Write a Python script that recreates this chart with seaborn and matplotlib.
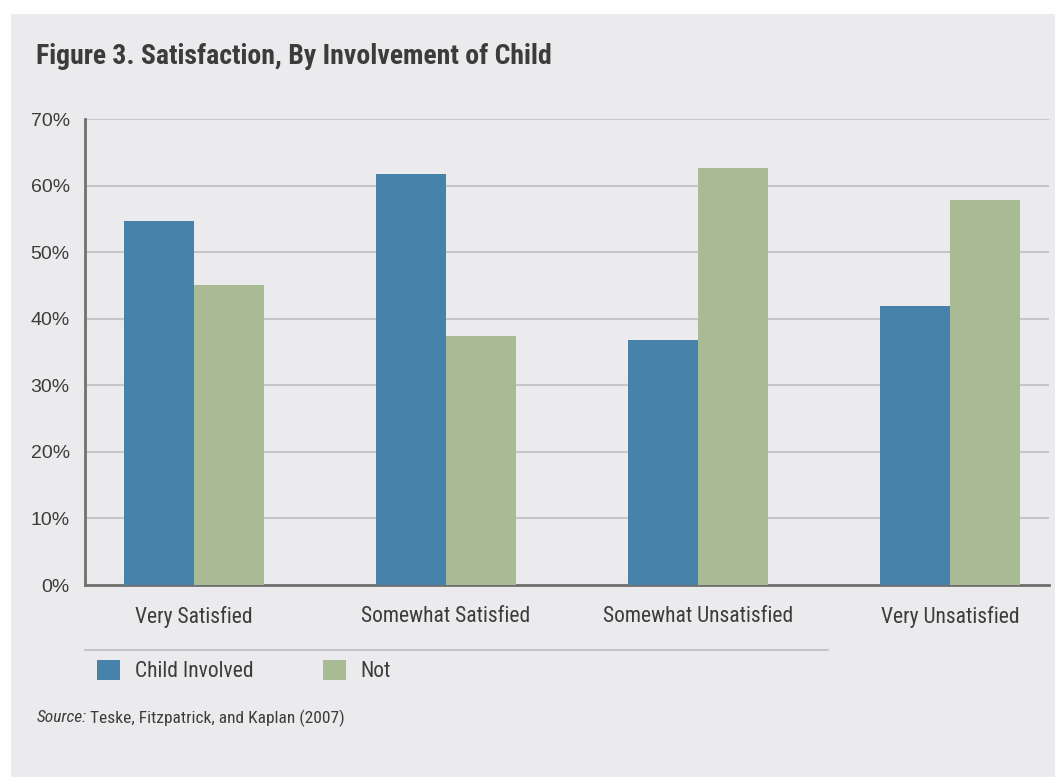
import matplotlib
matplotlib.use("Agg")
import matplotlib.pyplot as plt
import pandas as pd
import seaborn as sns
from matplotlib.lines import Line2D
from matplotlib.patches import Rectangle
from matplotlib.ticker import FuncFormatter

# data
categories = ["Very Satisfied", "Somewhat Satisfied", "Somewhat Unsatisfied", "Very Unsatisfied"]
series_names = ["Child Involved", "Not"]
child_involved = [54.7, 61.8, 36.8, 41.9]
not_involved = [45.0, 37.4, 62.7, 57.9]
y_ticks = [0, 10, 20, 30, 40, 50, 60, 70]

title = "Figure 3. Satisfaction, By Involvement of Child"
source = "Teske, Fitzpatrick, and Kaplan (2007)"

BG = "#EBEBED"
TXT = "#3C3C3C"
colors = ["#4682A9", "#A8BB94"]
NARROW = ["Roboto Condensed", "Archivo Narrow", "Liberation Sans", "DejaVu Sans"]

df = pd.DataFrame({
    "category": categories * 2,
    "series": [series_names[0]] * 4 + [series_names[1]] * 4,
    "value": child_involved + not_involved,
})

sns.set_style("white")
plt.rcParams["font.family"] = ["Liberation Sans", "DejaVu Sans"]

W, H = 1055, 777
fig = plt.figure(figsize=(W / 100, H / 100), dpi=100)
fig.patch.set_facecolor("white")
fig.patches.append(Rectangle((11 / W, 0), 1 - 11 / W, 1 - 14 / H,
                             transform=fig.transFigure, facecolor=BG,
                             edgecolor="none", zorder=-10))

ax = fig.add_axes([85 / W, 1 - 585 / H, (1049 - 85) / W, (585 - 119) / H])
ax.set_facecolor(BG)

sns.barplot(data=df, x="category", y="value", hue="series", order=categories,
            hue_order=series_names, palette=colors, width=0.556, saturation=1,
            errorbar=None, linewidth=0, ax=ax, zorder=3)

ax.set_xlim(-0.433, 3.393)
ax.set_ylim(0, 70)
ax.set_yticks(y_ticks)
ax.yaxis.set_major_formatter(FuncFormatter(lambda v, _: f"{int(v)}%"))
ax.grid(axis="y", color="#C6C6C8", linewidth=1.5, zorder=0)
ax.set_axisbelow(True)
for s in ["top", "right"]:
    ax.spines[s].set_visible(False)
for s in ["left", "bottom"]:
    ax.spines[s].set_color("#707070")
    ax.spines[s].set_linewidth(2)
ax.set_xlabel("")
ax.set_ylabel("")
ax.tick_params(axis="y", length=0, pad=11, labelsize=14, labelcolor=TXT)
ax.tick_params(axis="x", length=0, pad=15, labelcolor=TXT)
for lab in ax.get_xticklabels():
    lab.set_fontfamily(NARROW)
    lab.set_fontsize(15.5)

sns.move_legend(ax, loc="upper left", bbox_to_anchor=(97 / W, 1 - 660 / H),
                bbox_transform=fig.transFigure, ncol=2, frameon=False, title=None,
                handlelength=1.07, handleheight=1.07, handletextpad=0.7,
                columnspacing=3.2, borderaxespad=0, borderpad=0,
                prop={"family": NARROW, "size": 15.5})
for t in ax.get_legend().get_texts():
    t.set_color(TXT)

# separator line above legend
fig.add_artist(Line2D([85 / W, 828 / W], [1 - 650 / H] * 2, transform=fig.transFigure,
                      color="#C6C6C8", linewidth=1.5))

fig.text(36 / W, 1 - 57 / H, title, ha="left", va="center", fontsize=20,
         fontweight="bold", family=NARROW, color=TXT)

src = fig.text(37 / W, 1 - 718 / H, "Source:", ha="left", va="center", fontsize=12.5,
               style="italic", family=NARROW, color=TXT)
fig.canvas.draw()
bb = src.get_window_extent()
fig.text((bb.x1 + 3) / W, 1 - 718 / H, source, ha="left", va="center", fontsize=12.5,
         family=NARROW, color=TXT)

fig.savefig("out.png", dpi=100, facecolor=fig.get_facecolor())
